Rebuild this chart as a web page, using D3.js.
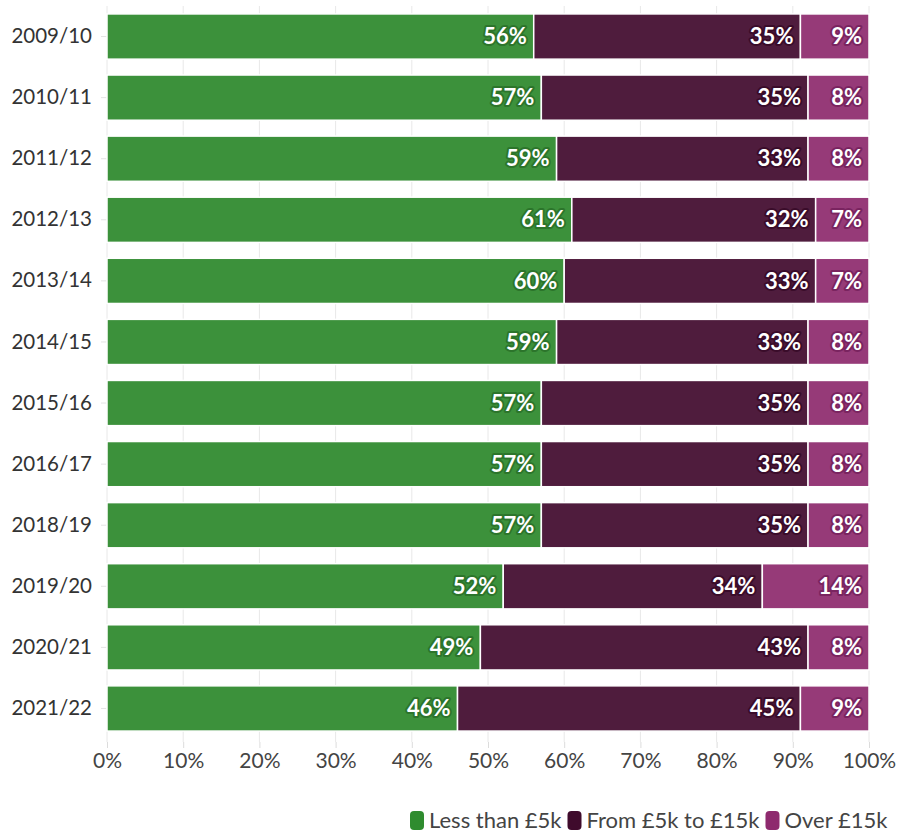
<!DOCTYPE html>
<html>
<head>
<meta charset="utf-8">
<script src="https://cdn.jsdelivr.net/npm/d3@7"></script>
<style>
  html, body { margin: 0; padding: 0; background: #fff; }
  svg { display: block; font-family: "Source Sans Pro", Lato, "Noto Sans", sans-serif; }
</style>
</head>
<body>
<svg id="chart" width="900" height="834"></svg>
<script>
// Share of amounts by band, per year (percent)
const years = ["2009/10","2010/11","2011/12","2012/13","2013/14","2014/15","2015/16","2016/17","2018/19","2019/20","2020/21","2021/22"];
const lessThan5k = [56,57,59,61,60,59,57,57,57,52,49,46];
const from5kTo15k = [35,35,33,32,33,33,35,35,35,34,43,45];
const over15k = [9,8,8,7,7,8,8,8,8,14,8,9];
const seriesNames = ["Less than £5k","From £5k to £15k","Over £15k"];
const xTicks = [0,10,20,30,40,50,60,70,80,90,100];

const fills = ["#3c913b", "#4f1c3d", "#963a78"];
const halos = ["#2c752b", "#3a0c2a", "#7a2460"];
const legendFills = ["#2f8c2f", "#3f0b2c", "#8e2a6e"];
const FONT = "\"Source Sans Pro\", Lato, \"Noto Sans\", sans-serif";

const svg = d3.select("#chart");
const margin = { left: 107, right: 31, top: 6, bottom: 95 };
const W = 900, H = 834;

const x = d3.scaleLinear().domain([0, 100]).range([margin.left, W - margin.right]);
const y = d3.scaleBand().domain(years).range([margin.top, H - margin.bottom]).paddingInner(0.26).paddingOuter(0.13);

const rows = years.map((yr, i) => ({ year: yr, values: [lessThan5k[i], from5kTo15k[i], over15k[i]] }));
const stack = d3.stack().keys([0, 1, 2]).value((d, k) => d.values[k]);
const layers = stack(rows);

// Grid lines
const gridBottom = H - margin.bottom + 3;
svg.append("g").selectAll("line").data(xTicks).join("line")
  .attr("x1", d => x(d)).attr("x2", d => x(d))
  .attr("y1", margin.top).attr("y2", gridBottom)
  .attr("stroke", "#e8e8e8").attr("stroke-width", 1);

// x axis
const xAxis = svg.append("g").attr("transform", `translate(0,${gridBottom})`)
  .call(d3.axisBottom(x).tickValues(xTicks).tickFormat(d => d + "%").tickSize(6).tickPadding(5));
xAxis.select(".domain").remove();
xAxis.selectAll(".tick line").attr("stroke", "#dcdcdc");
xAxis.selectAll(".tick text").attr("fill", "#444").attr("font-size", 21).attr("font-family", FONT);

// y axis
const yAxis = svg.append("g").attr("transform", `translate(${margin.left},0)`)
  .call(d3.axisLeft(y).tickSize(6).tickPadding(9));
yAxis.select(".domain").remove();
yAxis.selectAll(".tick line").attr("stroke", "#e3e3e3");
yAxis.selectAll(".tick text").attr("fill", "#333").attr("font-size", 20.5).attr("font-family", FONT);

// Bars
const barG = svg.append("g");
layers.forEach((layer, k) => {
  barG.append("g").selectAll("rect").data(layer).join("rect")
    .attr("x", d => x(d[0]))
    .attr("y", d => y(d.data.year))
    .attr("width", d => x(d[1]) - x(d[0]))
    .attr("height", y.bandwidth())
    .attr("fill", fills[k])
    .attr("stroke", "#fff").attr("stroke-width", 1.5);
});

// Value labels at the right end of each segment
const labG = svg.append("g");
layers.forEach((layer, k) => {
  const g = labG.append("g");
  const sel = g.selectAll("g").data(layer).join("g")
    .attr("transform", d => `translate(${x(d[1]) - 7},${y(d.data.year) + y.bandwidth() / 2})`);
  sel.append("text")
    .attr("text-anchor", "end").attr("dy", "0.35em")
    .attr("font-size", 22).attr("font-weight", 700)
    .attr("stroke", halos[k]).attr("stroke-width", 4).attr("stroke-linejoin", "round")
    .attr("fill", halos[k])
    .text(d => d.data.values[k] + "%");
  sel.append("text")
    .attr("text-anchor", "end").attr("dy", "0.35em")
    .attr("font-size", 22).attr("font-weight", 700)
    .attr("fill", "#fff")
    .text(d => d.data.values[k] + "%");
});

// Legend
const legend = svg.append("g").attr("transform", "translate(0,820)");
let lx = 410;
seriesNames.forEach((name, k) => {
  legend.append("rect").attr("x", lx).attr("y", -9).attr("width", 14).attr("height", 19)
    .attr("rx", 4).attr("fill", legendFills[k]);
  const t = legend.append("text").attr("x", lx + 19).attr("y", 0).attr("dy", "0.35em")
    .attr("font-size", 22).attr("fill", "#444").attr("font-family", FONT).text(name);
  lx += 19 + t.node().getComputedTextLength() + 6;
});
</script>
</body>
</html>
